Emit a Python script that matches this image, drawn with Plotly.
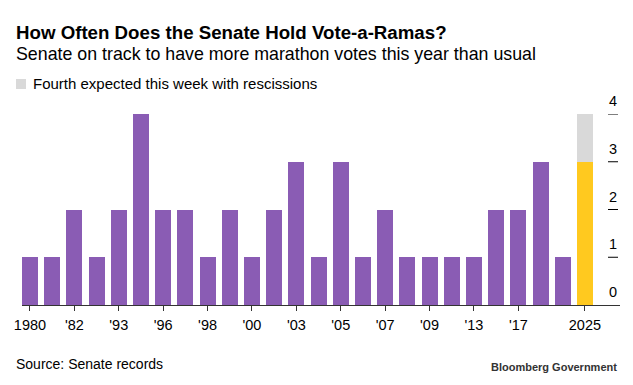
import plotly.graph_objects as go

# ---- data ----
bar_index = list(range(25))           # vote-a-rama years before 2025 (categorical slots)
vote_a_ramas = [1, 1, 2, 1, 2, 4, 2, 2, 1, 2, 1, 2, 3, 1, 3, 1, 2, 1, 1, 1, 1, 2, 2, 3, 1]
current_index = [25]
current_held = [3]
current_expected = [1]
tick_positions = [0, 2, 4, 6, 8, 10, 12, 14, 16, 18, 20, 22, 25]
tick_labels = ["1980", "'82", "'93", "'96", "'98", "'00", "'03", "'05", "'07", "'09", "'13", "'17", "2025"]
y_ticks = [0, 1, 2, 3, 4]

PURPLE = "#8A5CB4"
YELLOW = "#FFC91F"
GRAY = "#D9D9D9"
FONT = "Liberation Sans, Arial, sans-serif"

W, H = 633, 385
L, R, T, B = 22, 13, 114, 80
plot_h = H - T - B
plot_w = W - L - R


def py(ypx):
    return (H - B - ypx) / plot_h


def px(xpx):
    return (xpx - L) / plot_w


fig = go.Figure()
fig.add_trace(go.Bar(x=bar_index, y=vote_a_ramas, marker=dict(color=PURPLE, line=dict(width=0)),
                     showlegend=False, hoverinfo="skip"))
fig.add_trace(go.Bar(x=current_index, y=current_held, marker=dict(color=YELLOW, line=dict(width=0)),
                     showlegend=False, hoverinfo="skip"))
fig.add_trace(go.Bar(x=current_index, y=current_expected, marker=dict(color=GRAY, line=dict(width=0)),
                     name="Fourth expected this week with rescissions", showlegend=False, hoverinfo="skip"))

fig.update_layout(
    width=W, height=H,
    margin=dict(l=L, r=R, t=T, b=B),
    paper_bgcolor="white", plot_bgcolor="white",
    barmode="stack", bargap=0.28,
    font=dict(family=FONT, color="#000000", size=14),
    xaxis=dict(
        range=[-0.36, 26.58], tickmode="array", tickvals=tick_positions, ticktext=tick_labels,
        ticks="outside", ticklen=5, tickcolor="#333", tickwidth=1, ticklabelstandoff=2,
        showline=True, linecolor="#333", linewidth=1, showgrid=False, zeroline=False,
        tickfont=dict(size=14.5, color="#000"), fixedrange=True,
    ),
    yaxis=dict(range=[0, 4], showticklabels=False, showgrid=False, zeroline=False, showline=False,
               fixedrange=True),
)

# right-hand value scale: short tick marks with labels sitting above them
for v in y_ticks:
    if v > 0:
        fig.add_shape(type="line", xref="paper", yref="y", x0=px(608), x1=px(618), y0=v, y1=v,
                      line=dict(color="#000", width=1))
    fig.add_annotation(xref="paper", yref="y", x=px(613), y=v, yshift=13, text=str(v),
                       showarrow=False, xanchor="center", yanchor="middle",
                       font=dict(size=14.5, color="#000"))

# titles
fig.add_annotation(xref="paper", yref="paper", x=px(14), y=py(32.5), text="<b>How Often Does the Senate Hold Vote-a-Ramas?</b>",
                   showarrow=False, xanchor="left", yanchor="middle", font=dict(size=18.7, color="#000"))
fig.add_annotation(xref="paper", yref="paper", x=px(14), y=py(53.5),
                   text="Senate on track to have more marathon votes this year than usual",
                   showarrow=False, xanchor="left", yanchor="middle", font=dict(size=17.8, color="#000"))

# legend key
fig.add_shape(type="rect", xref="paper", yref="paper", x0=px(16), x1=px(26), y0=py(89), y1=py(79),
              fillcolor=GRAY, line=dict(width=0))
fig.add_annotation(xref="paper", yref="paper", x=px(31), y=py(84),
                   text="Fourth expected this week with rescissions",
                   showarrow=False, xanchor="left", yanchor="middle", font=dict(size=15, color="#000"))

# footer
fig.add_annotation(xref="paper", yref="paper", x=px(14), y=py(363.5), text="Source: Senate records",
                   showarrow=False, xanchor="left", yanchor="middle", font=dict(size=14, color="#000"))
fig.add_annotation(xref="paper", yref="paper", x=px(619), y=py(366.5), text="<b>Bloomberg Government</b>",
                   showarrow=False, xanchor="right", yanchor="middle", font=dict(size=11, color="#333"))

fig.write_html("out.html", config={"displayModeBar": False, "staticPlot": True},
               post_script="document.body.style.margin='0';document.body.style.padding='0';")
